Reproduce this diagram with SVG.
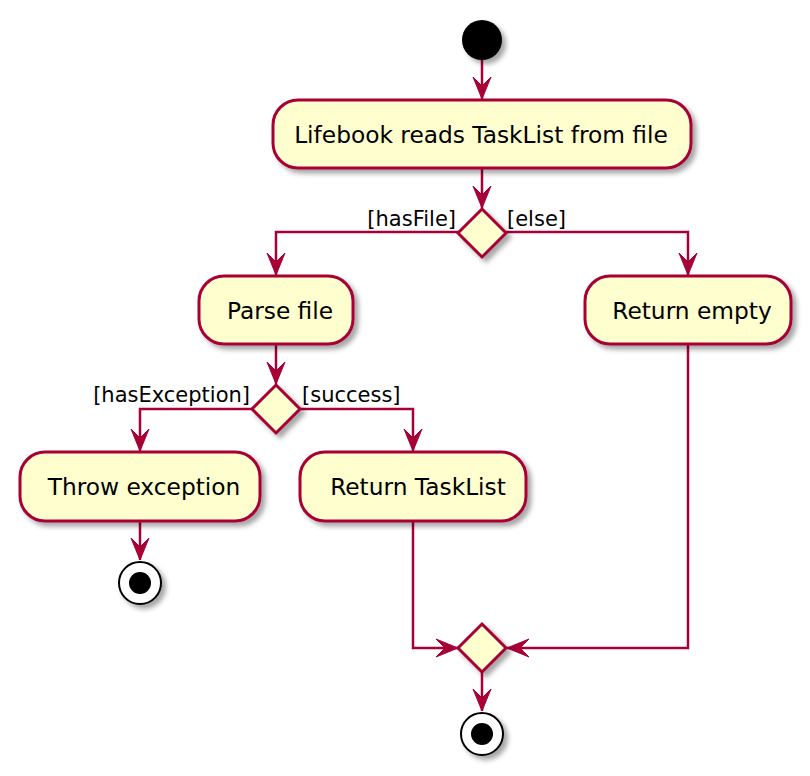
<svg xmlns="http://www.w3.org/2000/svg" width="810" height="776" viewBox="0 0 810 776">
<style>
.act{fill:#FEFECE;stroke:#A80036;stroke-width:3;filter:url(#sh)}
.dia{fill:#FEFECE;stroke:#A80036;stroke-width:3;filter:url(#sh)}
.ln{fill:none;stroke:#A80036;stroke-width:2.5;marker-end:url(#ah)}
.t{font-family:"DejaVu Sans","Liberation Sans",sans-serif;font-size:23.3px;fill:#000;text-anchor:middle}
.lb{font-family:"DejaVu Sans","Liberation Sans",sans-serif;font-size:21px;fill:#000}
</style>
<defs>
<filter id="sh" x="-30%" y="-30%" width="160%" height="160%">
<feDropShadow dx="4" dy="4" stdDeviation="2.5" flood-color="#000" flood-opacity="0.35"/>
</filter>
<marker id="ah" markerUnits="userSpaceOnUse" viewBox="-23 -11 24 22" markerWidth="24" markerHeight="22" refX="0" refY="0" orient="auto">
<path d="M0,0 L-22,-9 L-13,0 L-22,9 Z" fill="#A80036" stroke="#A80036" stroke-width="1"/>
</marker>
</defs>
<g id="connectors">
<path class="ln" d="M482,60 L482,99"/>
<path class="ln" d="M482,168 L482,208"/>
<path class="ln" d="M458,232 L276,232 L276,275"/>
<path class="ln" d="M506,232 L688,232 L688,275"/>
<path class="ln" d="M276,344 L276,384"/>
<path class="ln" d="M252,409 L140,409 L140,451"/>
<path class="ln" d="M300,409 L413,409 L413,451"/>
<path class="ln" d="M140,521 L140,560"/>
<path class="ln" d="M413,521 L413,648 L458,648"/>
<path class="ln" d="M688,344 L688,648 L507,648"/>
<path class="ln" d="M482,672 L482,711"/>
</g>
<g id="start"><circle cx="482" cy="40" r="20" fill="#000" filter="url(#sh)"/></g>
<g id="readTaskList">
<rect class="act" x="273" y="100" width="418" height="68" rx="25"/>
<text class="t" x="481" y="143">Lifebook reads TaskList from file</text>
</g>
<g id="hasFileDecision">
<polygon class="dia" points="482,209 506,233 482,257 458,233"/>
<text class="lb" x="456" y="226" text-anchor="end">[hasFile]</text>
<text class="lb" x="507" y="226">[else]</text>
</g>
<g id="parseFile">
<rect class="act" x="199" y="276" width="154" height="68" rx="25"/>
<text class="t" x="280" y="319">Parse file</text>
</g>
<g id="returnEmpty">
<rect class="act" x="585" y="276" width="206" height="68" rx="25"/>
<text class="t" x="692" y="319">Return empty</text>
</g>
<g id="exceptionDecision">
<polygon class="dia" points="276,385 300,409 276,433 252,409"/>
<text class="lb" x="250" y="402" text-anchor="end">[hasException]</text>
<text class="lb" x="302" y="402">[success]</text>
</g>
<g id="throwException">
<rect class="act" x="20" y="452" width="240" height="69" rx="25"/>
<text class="t" x="144" y="495">Throw exception</text>
</g>
<g id="returnTaskList">
<rect class="act" x="300" y="452" width="226" height="69" rx="25"/>
<text class="t" x="418" y="495">Return TaskList</text>
</g>
<g id="stop1">
<circle cx="140" cy="583" r="21" fill="#fff" stroke="#000" stroke-width="2" filter="url(#sh)"/>
<circle cx="140" cy="583" r="11" fill="#000"/>
</g>
<g id="merge">
<polygon class="dia" points="482,624 506,648 482,672 458,648"/>
</g>
<g id="stop2">
<circle cx="482" cy="734" r="21" fill="#fff" stroke="#000" stroke-width="2" filter="url(#sh)"/>
<circle cx="482" cy="734" r="11" fill="#000"/>
</g>
</svg>
